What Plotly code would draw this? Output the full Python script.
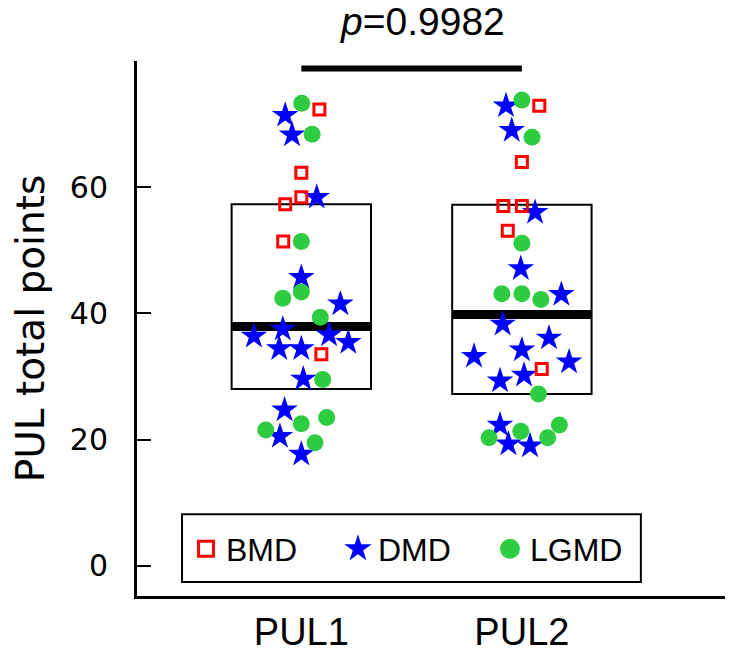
import plotly.graph_objects as go

# ---------------- data ----------------
categories = ["PUL1", "PUL2"]
y_ticks = [0, 20, 40, 60]

# box summaries (q1, median, q3) per category
box_q1 = [28.0, 27.2]
box_median = [37.9, 39.8]
box_q3 = [57.3, 57.2]

p_label = "<i>p</i>=0.9982"
bracket_y = 78.8

# values per group and diagnosis; jitter = horizontal offset within category
pul1_bmd = [72.3, 62.3, 58.4, 57.3, 51.4, 33.5]
pul1_bmd_jit = [0.082, 0.0, 0.0, -0.073, -0.082, 0.091]
pul1_dmd = [71.4, 68.3, 58.4, 45.7, 41.5, 36.4, 37.5, 36.6, 35.4, 34.4, 34.4, 29.6, 24.7, 20.5, 17.7]
pul1_dmd_jit = [-0.073, -0.042, 0.070, 0.0, 0.177, -0.215, -0.084, 0.126, 0.213, -0.100, 0.0, 0.009, -0.076, -0.097, 0.0]
pul1_lgmd = [73.3, 68.4, 51.4, 42.4, 43.4, 39.4, 29.5, 23.5, 22.5, 21.5, 19.5]
pul1_lgmd_jit = [0.002, 0.049, 0.0, -0.084, 0.0, 0.086, 0.097, 0.115, 0.0, -0.161, 0.062]

pul2_bmd = [72.9, 64.0, 57.0, 57.0, 53.1, 31.2]
pul2_bmd_jit = [0.079, 0.0, -0.084, 0.0, -0.064, 0.090]
pul2_dmd = [72.9, 69.0, 56.0, 47.1, 43.0, 38.3, 36.1, 34.2, 33.2, 32.3, 30.2, 29.3, 22.3, 19.3, 19.0]
pul2_dmd_jit = [-0.072, -0.046, 0.060, -0.005, 0.179, -0.087, 0.123, 0.0, -0.217, 0.214, 0.010, -0.099, -0.099, -0.061, 0.037]
pul2_lgmd = [73.8, 67.9, 51.1, 43.1, 43.1, 42.2, 27.2, 22.3, 21.3, 20.3, 20.3]
pul2_lgmd_jit = [0.0, 0.046, 0.0, -0.091, 0.0, 0.086, 0.075, 0.170, -0.005, -0.149, 0.117]

groups = {
    "BMD": [(pul1_bmd, pul1_bmd_jit), (pul2_bmd, pul2_bmd_jit)],
    "DMD": [(pul1_dmd, pul1_dmd_jit), (pul2_dmd, pul2_dmd_jit)],
    "LGMD": [(pul1_lgmd, pul1_lgmd_jit), (pul2_lgmd, pul2_lgmd_jit)],
}
legend_names = ["BMD", "DMD", "LGMD"]

# ---------------- styles ----------------
ARIAL = "Liberation Sans, Arial, sans-serif"
DEJAVU = "DejaVu Sans, sans-serif"
BOX_HALF = 0.316
styles = {
    "BMD": dict(symbol="square-open", size=11, color="#ff0000", lw=3),
    "DMD": dict(symbol="star", size=20, color="#0000ff", lw=0),
    "LGMD": dict(symbol="circle", size=17, color="#2ecc40", lw=0),
}
legend_styles = {
    "BMD": dict(symbol="square-open", size=15, lw=3),
    "DMD": dict(symbol="star", size=16, lw=2),
    "LGMD": dict(symbol="circle", size=16, lw=4),
}
draw_order = ["DMD", "LGMD", "BMD"]

fig = go.Figure()

# boxes and medians
for i, cat in enumerate(categories):
    xc = i + 1
    fig.add_shape(type="rect", xref="x", yref="y",
                  x0=xc - BOX_HALF, x1=xc + BOX_HALF, y0=box_q1[i], y1=box_q3[i],
                  line=dict(color="black", width=2), fillcolor="rgba(0,0,0,0)", layer="below")
    fig.add_trace(go.Scatter(x=[xc - BOX_HALF, xc + BOX_HALF], y=[box_median[i], box_median[i]],
                             mode="lines", line=dict(color="black", width=9),
                             showlegend=False, hoverinfo="skip"))

# points
for name in draw_order:
    xs, ys = [], []
    for i, (vals, jit) in enumerate(groups[name]):
        xs += [i + 1 + j for j in jit]
        ys += vals
    st = styles[name]
    fig.add_trace(go.Scatter(
        x=xs, y=ys, mode="markers", name=name, showlegend=False,
        marker=dict(symbol=st["symbol"], size=st["size"], color=st["color"],
                    line=dict(color=st["color"], width=st["lw"])),
    ))

# legend entries (no data points, only legend symbols)
for name in legend_names:
    ls = legend_styles[name]
    fig.add_trace(go.Scatter(
        x=[None], y=[None], mode="markers", name=name, showlegend=True,
        marker=dict(symbol=ls["symbol"], size=ls["size"], color=styles[name]["color"],
                    line=dict(color=styles[name]["color"], width=ls["lw"])),
    ))

# significance bracket
fig.add_shape(type="line", xref="x", yref="y", x0=1, x1=2, y0=bracket_y, y1=bracket_y,
              line=dict(color="black", width=6))
fig.add_annotation(x=1.5, xref="x", y=1, yref="paper", yanchor="bottom", xshift=11, yshift=16,
                   text=p_label, showarrow=False,
                   font=dict(family=ARIAL, size=39, color="black"))

# legend frame
fig.add_shape(type="rect", xref="paper", yref="paper", x0=0.0763, x1=0.854, y0=0.026, y1=0.153,
              line=dict(color="black", width=2), fillcolor="white", layer="below")

# page body has an 8px default margin: size the figure to fill the 733x651 window
fig.update_layout(
    width=725, height=643,
    margin=dict(l=129, r=6, t=53, b=55, autoexpand=False),
    paper_bgcolor="white", plot_bgcolor="white",
    showlegend=True,
    legend=dict(orientation="h", x=0.083, y=0.088, xanchor="left", yanchor="middle",
                borderwidth=0, bgcolor="rgba(0,0,0,0)", traceorder="normal",
                font=dict(family=ARIAL, size=32, color="black"),
                entrywidth=107, entrywidthmode="pixels"),
    xaxis=dict(range=[0.255, 2.93], tickvals=[1, 2], ticktext=categories, automargin=False,
               showline=True, linewidth=3, linecolor="black", ticks="",
               showgrid=False, zeroline=False,
               tickfont=dict(family=ARIAL, size=38, color="black")),
    yaxis=dict(range=[-4.8, 80], tickvals=y_ticks, automargin=False,
               showline=True, linewidth=3, linecolor="black",
               ticks="inside", ticklen=14, tickwidth=2, tickcolor="black",
               ticklabelstandoff=20,
               showgrid=False, zeroline=False,
               tickfont=dict(family=DEJAVU, size=30, color="black"),
               title=dict(text="PUL total points", font=dict(family=DEJAVU, size=39, color="black"),
                          standoff=20)),
)

fig.write_html("out.html")
